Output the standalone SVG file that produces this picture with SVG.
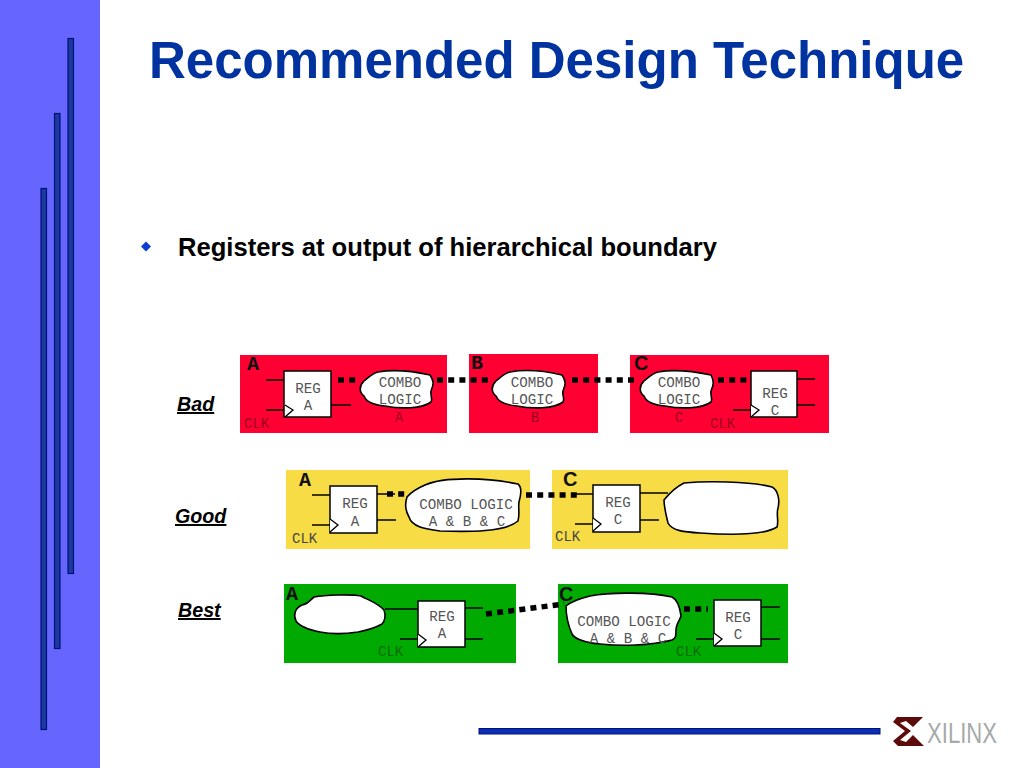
<svg xmlns="http://www.w3.org/2000/svg" width="1024" height="768" viewBox="0 0 1024 768">
<style>
.reg{fill:#fff;stroke:#000;stroke-width:1.5}
.blob{fill:#fff;stroke:#000;stroke-width:1.6}
.w{stroke:#000;stroke-width:1.3;fill:none}
.ck{stroke:#000;stroke-width:1.3;fill:#fff}
.d{stroke:#000;stroke-width:5.500;fill:none;stroke-dasharray:6 5.200}
.m{font-family:"Liberation Mono",monospace;font-size:14.200px;text-anchor:middle;fill:#555}
.ckt{font-family:"Liberation Mono",monospace;font-size:14px}
.h{font-family:"Liberation Mono",monospace;font-size:20px;font-weight:bold;fill:#111}
.hs{font-family:"Liberation Sans",sans-serif;font-size:20px;font-weight:bold;fill:#111}
.side{font-family:"Liberation Sans",sans-serif;font-size:19.700px;font-weight:bold;font-style:italic;text-decoration:underline;fill:#000}
.bar{fill:#1c3a9e;stroke:#00107a;stroke-width:1.2}
</style>
<g id="sidebar">
<rect x="0" y="0" width="100" height="768" fill="#6666ff"/>
<rect class="bar" x="68" y="38.500" width="5.500" height="535"/>
<rect class="bar" x="54.500" y="113.500" width="5.500" height="535"/>
<rect class="bar" x="41" y="188.500" width="5.500" height="541"/>
</g>
<g id="title"><text x="149" y="78" font-family="'Liberation Sans',sans-serif" font-size="51" font-weight="bold" fill="#0033a0">Recommended Design Technique</text></g>
<g id="bullet">
<polygon points="146,241.500 151,246.500 146,251.500 141,246.500" fill="#0b3fd0"/>
<text x="178" y="256" font-family="'Liberation Sans',sans-serif" font-size="25.600" font-weight="bold" fill="#000" transform="translate(0 0)">Registers at output of hierarchical boundary</text>
</g>
<g id="row-labels">
<text class="side" x="177" y="411">Bad</text>
<text class="side" x="175" y="523">Good</text>
<text class="side" x="178" y="617">Best</text>
</g>
<g id="panels">
<rect x="240" y="355" width="207" height="78" fill="#ff0033"/>
<rect x="469" y="354" width="129" height="79" fill="#ff0033"/>
<rect x="630" y="355" width="199" height="78" fill="#ff0033"/>
<rect x="286" y="470" width="244" height="79" fill="#f8dc46"/>
<rect x="552" y="470" width="236" height="79" fill="#f8dc46"/>
<rect x="284" y="584" width="232" height="79" fill="#00aa00"/>
<rect x="558" y="584" width="230" height="79" fill="#00aa00"/>
</g>
<g id="connectors">
<path class="w" d="M266 380H284M266 410H284M331 405H351"/>
<path class="w" d="M733 410H751M797 379H815M797 405H815"/>
<path class="w" d="M312 495H330M312 525H330M377 494H395M377 520H396"/>
<path class="w" d="M575 494H593M575 524H593M640 493H668M640 520H659"/>
<path class="w" d="M385 609H418M400 639H418M465 608H483M465 639H483"/>
<path class="w" d="M696 639H714M761 607H780M761 639H780"/>
<path class="d" d="M338 380H356"/>
<path class="d" d="M437 380H489"/>
<path class="d" d="M572 380H634"/>
<path class="d" d="M718 380H750"/>
<path class="d" d="M387 494H408"/>
<path class="d" d="M526 495H578"/>
<path class="d" d="M486 614L564 604"/>
<path class="d" d="M684 609H708"/>
</g>
<g id="bad-a">
<text class="h" x="247" y="370">A</text>
<rect class="reg" x="284" y="371" width="47" height="46"/>
<path class="ck" d="M285 405L293 410L285 417"/>
<text class="m" x="308" y="393">REG</text><text class="m" x="308" y="410">A</text>
<text class="ckt" x="244" y="428" fill="#a00020">CLK</text>
<path class="blob" d="M378 372C395 369 412 371 430 375C434 381 434 384 431 391C430 396 433 398 431 402C422 409 400 409 385 406C375 405 366 402 364 396C359 392 359 386 364 381C369 377 373 373 378 372Z"/>
<text class="m" x="400" y="387">COMBO</text><text class="m" x="400" y="404">LOGIC</text>
<text class="m" x="399" y="422" style="fill:#a00020">A</text>
</g>
<g id="bad-b">
<text class="h" x="471" y="369">B</text>
<path class="blob" d="M510 372C527 369 545 371 562 375C566 381 566 384 563 391C562 396 565 398 563 402C554 409 532 409 517 406C507 405 498 402 496 396C491 392 491 386 496 381C501 377 505 373 510 372Z"/>
<text class="m" x="532" y="387">COMBO</text><text class="m" x="532" y="404">LOGIC</text>
<text class="m" x="535" y="422" style="fill:#a00020">B</text>
</g>
<g id="bad-c">
<text class="hs" x="634" y="370">C</text>
<path class="blob" d="M658 372C675 369 692 371 711 375C714 381 714 384 711 391C710 396 713 398 711 402C702 409 680 409 665 406C655 405 646 402 644 396C639 392 639 386 644 381C649 377 653 373 658 372Z"/>
<text class="m" x="679" y="387">COMBO</text><text class="m" x="679" y="404">LOGIC</text>
<text class="m" x="679" y="422" style="fill:#a00020">C</text>
<rect class="reg" x="751" y="371" width="46" height="46"/>
<path class="ck" d="M751 405L759 410L751 417"/>
<text class="m" x="775" y="398">REG</text><text class="m" x="775" y="415">C</text>
<text class="ckt" x="710" y="428" fill="#a00020">CLK</text>
</g>
<g id="good-a">
<text class="h" x="299" y="486">A</text>
<rect class="reg" x="330" y="486" width="47" height="47"/>
<path class="ck" d="M330 519L338 525L330 532"/>
<text class="m" x="355" y="508">REG</text><text class="m" x="355" y="526">A</text>
<text class="ckt" x="292" y="543" fill="#444">CLK</text>
<path class="blob" d="M425 485C445 476 490 478 518 484C522 487 521 495 519 502C518 507 520 514 518 521C505 532 470 532 440 531C425 529 412 527 409 517C405 510 405 503 407 497C412 491 418 488 425 485Z"/>
<text class="m" x="466" y="509">COMBO LOGIC</text><text class="m" x="467" y="526">A &amp; B &amp; C</text>
</g>
<g id="good-c">
<text class="hs" x="563" y="486">C</text>
<rect class="reg" x="593" y="485" width="47" height="47"/>
<path class="ck" d="M593 518L601 524L593 531"/>
<text class="m" x="618" y="507">REG</text><text class="m" x="618" y="524">C</text>
<text class="ckt" x="555" y="541" fill="#444">CLK</text>
<path class="blob" d="M684 483C705 481 750 481 772 487C778 490 780 500 778 508C776 514 779 521 777 527C765 535 730 535 700 533C685 532 672 531 668 523C666 515 664 505 664 500C668 495 676 487 684 483Z"/>
</g>
<g id="best-a">
<text class="h" x="286" y="600">A</text>
<path class="blob" d="M314 597C325 595 350 594 361 596C368 600 378 603 384 610C386 615 385 621 382 624C375 628 368 630 358 632C345 634 330 634 320 632C310 630 300 627 296 621C293 615 295 608 302 605C308 604 310 600 314 597Z"/>
<rect class="reg" x="418" y="601" width="47" height="46"/>
<path class="ck" d="M418 634L426 640L418 647"/>
<text class="m" x="442" y="621">REG</text><text class="m" x="442" y="638">A</text>
<text class="ckt" x="378" y="656" fill="#0a6a0a">CLK</text>
</g>
<g id="best-c">
<text class="hs" x="559" y="601">C</text>
<path class="blob" d="M590 596C610 592 650 592 672 597C678 600 680 608 681 616C680 620 676 624 676 630C676 636 676 638 672 640C650 646 620 646 600 644C590 643 576 641 572 634C568 625 566 615 566 606C572 601 582 598 590 596Z"/>
<text class="m" x="624" y="626">COMBO LOGIC</text><text class="m" x="628" y="643">A &amp; B &amp; C</text>
<rect class="reg" x="714" y="600" width="47" height="46"/>
<path class="ck" d="M714 633L722 639L714 646"/>
<text class="m" x="738" y="622">REG</text><text class="m" x="738" y="639">C</text>
<text class="ckt" x="676" y="656" fill="#0a6a0a">CLK</text>
</g>
<g id="footer">
<rect x="479" y="728.500" width="401" height="5.500" fill="#0b2fb0" stroke="#00107a" stroke-width="1"/>
<polygon fill="#5c0a0a" points="897,717 923,717 913,727 906,721 900,723 911,731 900,740 906,742 913,735 924,746 898,746 893,741 905,731 893,722"/>
<text x="927" y="743" font-family="'Liberation Sans',sans-serif" font-size="29" fill="#a5aaaa" textLength="70" lengthAdjust="spacingAndGlyphs">XILINX</text>
</g>
</svg>
